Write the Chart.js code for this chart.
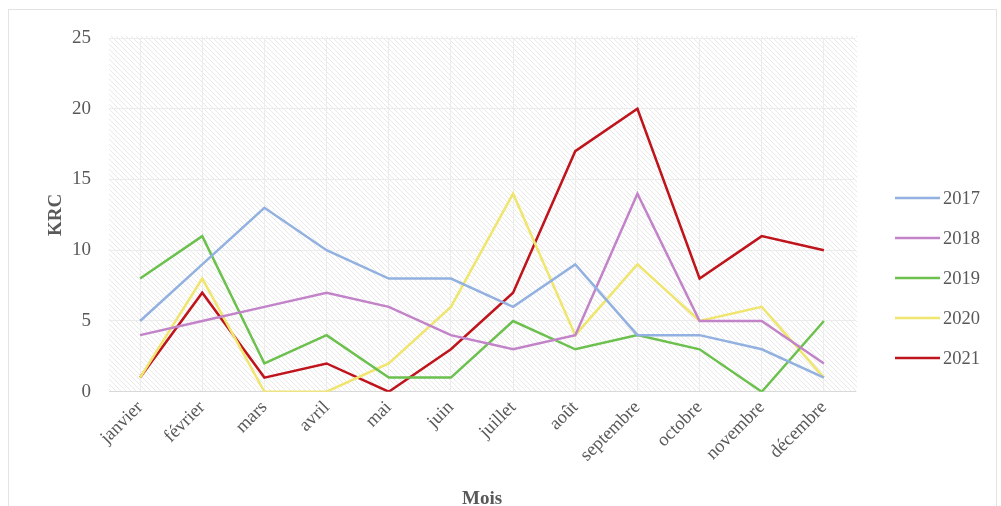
<!DOCTYPE html>
<html>
<head>
<meta charset="utf-8">
<script src="https://cdn.jsdelivr.net/npm/chart.js@4/dist/chart.umd.min.js"></script>
<style>
  html, body { margin: 0; padding: 0; background: #fff; }
  #wrap { position: relative; width: 1001px; height: 506px; }
  #frame { position: absolute; left: 8px; top: 9px; width: 989px; height: 510px; border: 1px solid #e3e3e3; box-sizing: border-box; }
  canvas { position: absolute; left: 0; top: 0; }
</style>
</head>
<body>
<div id="wrap">
  <div id="frame"></div>
  <canvas id="chart" width="1001" height="506"></canvas>
</div>
<script>
const months = ["janvier", "février", "mars", "avril", "mai", "juin", "juillet", "août", "septembre", "octobre", "novembre", "décembre"];
const years = ["2017", "2018", "2019", "2020", "2021"];

const v2017 = [5, 9, 13, 10, 8, 8, 6, 9, 4, 4, 3, 1];
const v2018 = [4, 5, 6, 7, 6, 4, 3, 4, 14, 5, 5, 2];
const v2019 = [8, 11, 2, 4, 1, 1, 5, 3, 4, 3, 0, 5];
const v2020 = [1, 8, 0, 0, 2, 6, 14, 4, 9, 5, 6, 1];
const v2021 = [1, 7, 1, 2, 0, 3, 7, 17, 20, 8, 11, 10];

const colors = ["#92b1e0", "#c283c9", "#6cc04e", "#f0e56f", "#c0141c"];
const series = [v2017, v2018, v2019, v2020, v2021];

const font = "'Liberation Serif', 'Times New Roman', serif";
const grey = "#595959";

// hatched background for the plot area
function makeHatch() {
    let c = document.createElement("canvas");
    c.width = 5; c.height = 5;
    let g = c.getContext("2d");
    g.fillStyle = "#ffffff";
    g.fillRect(0, 0, 5, 5);
    g.strokeStyle = "#e9e9e9";
    g.lineWidth = 1;
    g.beginPath();
    g.moveTo(-1, -1); g.lineTo(6, 6);
    g.moveTo(-1, 4); g.lineTo(1, 6);
    g.moveTo(4, -1); g.lineTo(6, 1);
    g.stroke();
    return g.createPattern(c, "repeat");
}

const hatchPlugin = {
    id: "hatch",
    beforeDraw(chart) {
        let a = chart.chartArea;
        let ctx = chart.ctx;
        ctx.save();
        ctx.fillStyle = makeHatch();
        ctx.fillRect(a.left, a.top - 2, a.right - a.left + 2, a.bottom - a.top + 2);
        ctx.restore();
    }
};

const legendPlugin = {
    id: "sideLegend",
    afterDraw(chart) {
        let ctx = chart.ctx;
        ctx.save();
        ctx.font = "18.5px " + font;
        ctx.textBaseline = "middle";
        chart.data.datasets.forEach((ds, i) => {
            let y = 198 + i * 40;
            ctx.strokeStyle = ds.borderColor;
            ctx.lineWidth = 2.5;
            ctx.beginPath();
            ctx.moveTo(895, y);
            ctx.lineTo(940, y);
            ctx.stroke();
            ctx.fillStyle = grey;
            ctx.fillText(ds.label, 943, y + 1);
        });
        ctx.restore();
    }
};

new Chart(document.getElementById("chart"), {
    type: "line",
    data: {
        labels: months,
        datasets: years.map((y, i) => ({
            label: y,
            data: series[i],
            borderColor: colors[i],
            backgroundColor: colors[i],
            borderWidth: 2.5,
            pointRadius: 0,
            tension: 0
        }))
    },
    options: {
        responsive: false,
        animation: false,
        layout: { padding: { left: 45, right: 146, top: 38, bottom: -4 } },
        plugins: {
            legend: { display: false },
            tooltip: { enabled: false }
        },
        scales: {
            x: {
                offset: true,
                grid: { color: "#ececec", drawTicks: false },
                border: { color: "#d9d9d9" },
                ticks: {
                    color: grey,
                    font: { family: font, size: 18.5 },
                    maxRotation: 45,
                    minRotation: 45,
                    padding: 5
                },
                title: {
                    display: true,
                    text: "Mois",
                    color: grey,
                    font: { family: font, size: 19, weight: "bold" },
                    padding: { top: 16, bottom: 0 }
                }
            },
            y: {
                min: 0,
                max: 25,
                afterFit: (s) => { s.width = 64; },
                ticks: {
                    stepSize: 5,
                    color: grey,
                    font: { family: font, size: 19 },
                    padding: 18
                },
                grid: { color: "#ececec", drawTicks: false },
                border: { display: false },
                title: {
                    display: true,
                    text: "KRC",
                    color: grey,
                    font: { family: font, size: 19, weight: "bold" },
                    padding: { top: 0, bottom: 0 }
                }
            }
        }
    },
    plugins: [hatchPlugin, legendPlugin]
});
</script>
</body>
</html>
